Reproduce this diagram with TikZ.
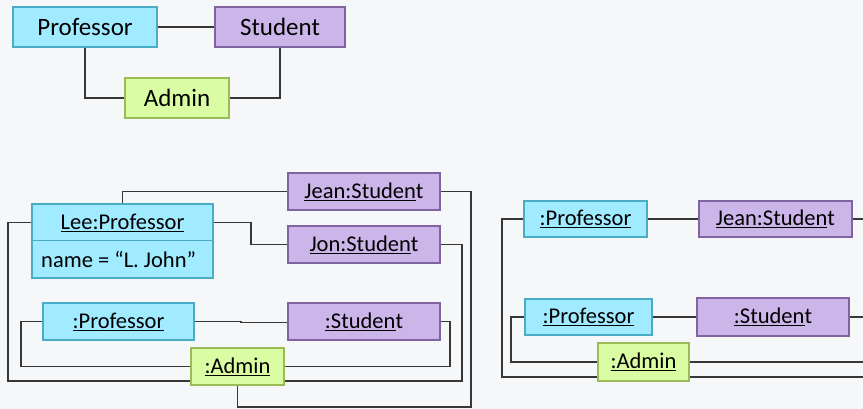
\documentclass[tikz,border=0pt]{standalone}
\usepackage{fontspec}
\setmainfont{Carlito}
\usetikzlibrary{shadows}
\definecolor{bg}{RGB}{246,247,249}
\definecolor{cyanF}{RGB}{160,235,255}
\definecolor{cyanD}{RGB}{75,172,198}
\definecolor{purpF}{RGB}{204,181,232}
\definecolor{purpD}{RGB}{128,100,162}
\definecolor{grnF}{RGB}{218,253,163}
\definecolor{grnD}{RGB}{155,187,89}
\definecolor{lnC}{RGB}{55,55,55}
\newcommand\ul[1]{\underline{#1}}
\tikzset{
  box/.style={rectangle, line width=1.3pt, inner sep=0pt, text=black,
    drop shadow={opacity=0.22, shadow xshift=1pt, shadow yshift=-1.2pt}},
  profbox/.style={box, draw=cyanD, fill=cyanF},
  studbox/.style={box, draw=purpD, fill=purpF},
  admbox/.style={box, draw=grnD, fill=grnF},
  big/.style={font=\fontsize{25}{30}\selectfont},
  small/.style={font=\fontsize{22.5}{27}\selectfont},
  conn/.style={draw=lnC, line width=1.3pt}
}
\begin{document}
\begin{tikzpicture}[x=1pt,y=-1pt]
\fill[bg] (0,0) rectangle (863,409);
\useasboundingbox (0,0) rectangle (863,409);
% ---- class diagram
\node[profbox,big,minimum width=144pt,minimum height=40pt] (prof) at (85,27) {Professor};
\node[studbox,big,minimum width=130pt,minimum height=40pt] (stud) at (280,27) {Student};
\node[admbox,big,minimum width=104pt,minimum height=40pt] (adm) at (177,98) {Admin};
\draw[conn] (prof.east) -- (stud.west);
\draw[conn] (prof.south) |- (adm.west);
\draw[conn] (stud.south) |- (adm.east);
% ---- object diagram left
\node[studbox,small,minimum width=152pt,minimum height=37pt] (jean) at (364,191.5) {\ul{Jean:Studen}t};
\node[profbox,minimum width=181pt,minimum height=74pt] (lee) at (122.5,241) {};
\draw[cyanD, line width=1pt] (lee.west) -- (lee.east);
\node[small,inner sep=0pt] (leet) at (122.5,222.5) {\ul{Lee:Professor}};
\node[small,inner sep=0pt,anchor=west] (leen) at (41,259.5) {name = “L. John”};
\node[studbox,small,minimum width=152pt,minimum height=37pt] (jon) at (364,244.5) {\ul{Jon:Studen}t};
\node[profbox,small,minimum width=151pt,minimum height=37pt] (p2) at (118.5,321.5) {\ul{:Professor}};
\node[studbox,small,minimum width=152pt,minimum height=37pt] (s2) at (364,321.5) {\ul{:Studen}t};
\node[admbox,small,minimum width=93pt,minimum height=37pt] (a2) at (237.5,366.5) {\ul{:Admin}};
\coordinate (yA) at (0,381);
\draw[conn] (lee.north) |- (jean.west);
\draw[conn] (jean.east) -| (471,407) -| (a2.south);
\draw[conn] (lee.east |- leet) -- (251,222.5) |- (jon.west);
\draw[conn] (jon.east) -| (462,381) -- (a2.east |- yA);
\draw[conn] (lee.west |- leet) -| (8,381) -- (a2.west |- yA);
\draw[conn] (p2.west) -| (21,366.5) -- (a2.west);
\draw[conn] (p2.east) -- (241,321.5) -- (241,322.3) -- (s2.west |- {(0,322.3)});
\draw[conn] (s2.east) -| (450,366.5) -- (a2.east);
% ---- object diagram right
\node[profbox,small,minimum width=123pt,minimum height=36pt] (rp1) at (585.5,219) {\ul{:Professor}};
\node[studbox,small,minimum width=153pt,minimum height=36pt] (rj) at (775.5,219) {\ul{Jean:Studen}t};
\node[profbox,small,minimum width=127pt,minimum height=36pt] (rp2) at (588.5,317) {\ul{:Professor}};
\node[studbox,small,minimum width=152pt,minimum height=38pt] (rs) at (773,317) {\ul{:Studen}t};
\node[admbox,small,minimum width=91pt,minimum height=38pt] (ra) at (643.5,362) {\ul{:Admin}};
\coordinate (e1) at (863,219);
\coordinate (e2) at (863,317);
\coordinate (e3) at (863,362);
\coordinate (e4) at (863,377);
\coordinate (yB) at (0,377);
\draw[conn] (rp1.east) -- (rj.west);
\draw[conn] (rj.east) -- (e1);
\draw[conn] (rp1.west) -| (502,377) -- (ra.west |- yB);
\draw[conn] (ra.east |- yB) -- (e4);
\draw[conn] (rp2.east) -- (rs.west);
\draw[conn] (rs.east) -- (e2);
\draw[conn] (rp2.west) -| (511,362) -- (ra.west);
\draw[conn] (ra.east) -- (e3);
\end{tikzpicture}
\end{document}
